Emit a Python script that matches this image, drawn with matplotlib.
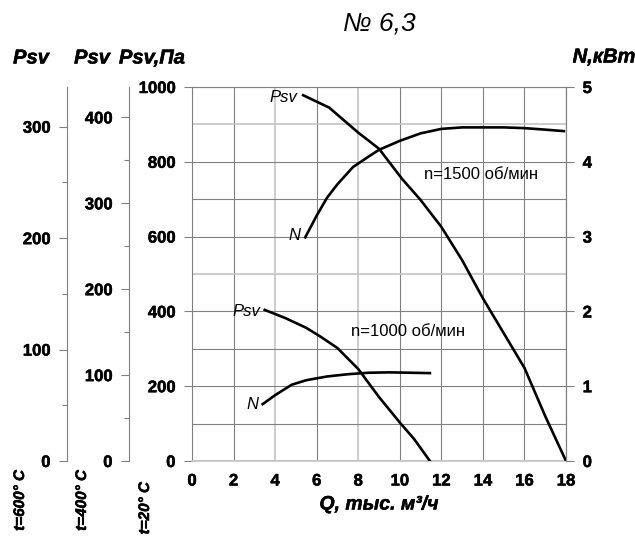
import matplotlib
matplotlib.use("Agg")
import matplotlib.pyplot as plt
import matplotlib.patheffects as pe
from matplotlib.ticker import MultipleLocator

plt.rcParams['font.family'] = ['Liberation Sans', 'DejaVu Sans']

# n=1500 rpm
q_p1500 = [5.35, 6.6, 8.0, 9.0, 10.1, 11.0, 12.0, 13.0, 14.0, 15.0, 16.0, 17.0, 18.0]
p_1500 = [978, 945, 878, 835, 755, 698, 626, 537, 435, 342, 249, 120, 0]
q_n1500 = [5.45, 6.0, 6.5, 7.0, 7.75, 8.5, 9.0, 10.0, 11.0, 12.0, 13.0, 14.0, 15.0, 16.0, 17.0, 17.9]
n_1500 = [2.99, 3.28, 3.52, 3.7, 3.93, 4.07, 4.16, 4.28, 4.38, 4.44, 4.46, 4.46, 4.46, 4.45, 4.43, 4.41]

# n=1000 rpm
q_p1000 = [3.5, 4.5, 5.5, 6.2, 7.0, 8.0, 9.0, 10.0, 10.7, 11.45]
p_1000 = [404, 382, 356, 332, 302, 246, 171, 103, 58, 0]
q_n1000 = [3.4, 4.0, 4.8, 5.5, 6.5, 7.5, 8.5, 9.5, 10.5, 11.45]
n_1000 = [0.76, 0.88, 1.02, 1.08, 1.13, 1.16, 1.18, 1.185, 1.18, 1.175]

x_ticks = list(range(0, 19, 2))
p_ticks = list(range(0, 1001, 200))
n_ticks = [0, 1, 2, 3, 4, 5]

# density ratios for hot gas scales
k400 = 293 / 673
k600 = 293 / 873

heavy = [pe.withStroke(linewidth=0.35, foreground='black')]

fig = plt.figure(figsize=(6.35, 5.47), dpi=100)
ax = fig.add_axes([192/635, 1-461/547, 374/635, 374/547])
ax.set_xlim(0, 18)
ax.set_ylim(0, 1000)

grey = '#808080'
light = '#c4c4c4'
for x in x_ticks:
    c = light if x in (0, 4, 8) else grey
    ax.axvline(x, color=c, lw=1.2 if c == light else 0.8, zorder=1)
for y in range(0, 1001, 100):
    c = light if y in (0, 500, 900) else grey
    ax.axhline(y, color=c, lw=1.2 if c == light else 0.8, zorder=1)

for s in ax.spines.values():
    s.set_color(grey)
    s.set_linewidth(0.8)
ax.spines['bottom'].set_color(light)
ax.spines['bottom'].set_linewidth(1.2)

ax.set_xticks(x_ticks)
ax.set_yticks(p_ticks)
ax.tick_params(axis='x', length=0, pad=9, labelsize=12)
ax.tick_params(axis='y', length=6, width=0.8, color=grey, pad=6, labelsize=12)
for lab in ax.get_xticklabels() + ax.get_yticklabels():
    lab.set_fontweight('bold')
    lab.set_path_effects(heavy)

ax.plot(q_p1500, p_1500, color='black', lw=1.9, zorder=3)
ax.plot(q_p1000, p_1000, color='black', lw=1.9, zorder=3)

ax2 = ax.twinx()
ax2.set_ylim(0, 5)
ax2.set_yticks(n_ticks)
for s in ['top', 'bottom', 'left']:
    ax2.spines[s].set_visible(False)
ax2.spines['right'].set_color(grey)
ax2.spines['right'].set_linewidth(0.8)
ax2.tick_params(axis='y', length=6, width=0.8, color=grey, pad=6, labelsize=12)
for lab in ax2.get_yticklabels():
    lab.set_fontweight('bold')
    lab.set_path_effects(heavy)
ax2.plot(q_n1500, n_1500, color='black', lw=1.9, zorder=3)
ax2.plot(q_n1000, n_1000, color='black', lw=1.9, zorder=3)

# secondary pressure scales for 400 and 600 C
sec4 = ax.secondary_yaxis((129-192)/374, functions=(lambda p: p*k400, lambda v: v/k400))
sec6 = ax.secondary_yaxis((67-192)/374, functions=(lambda p: p*k600, lambda v: v/k600))
for sa in (sec4, sec6):
    sa.yaxis.set_major_locator(MultipleLocator(100))
    sa.yaxis.set_minor_locator(MultipleLocator(50))
    sa.spines['left'].set_color(grey)
    sa.spines['left'].set_linewidth(0.8)
    sa.tick_params(which='major', length=6, width=0.8, color=grey, pad=6, labelsize=12)
    sa.tick_params(which='minor', length=3.5, width=0.8, color=grey)
    for lab in sa.get_yticklabels():
        lab.set_fontweight('bold')
        lab.set_path_effects(heavy)

# curve labels
lbl = dict(fontsize=12, style='italic', zorder=4)
ax.text(5.05, 973, 'Psv', ha='right', va='center', **lbl)
ax.text(5.2, 602, 'N', ha='right', va='center', **lbl)
ax.text(3.27, 401, 'Psv', ha='right', va='center', **lbl)
ax.text(3.18, 152, 'N', ha='right', va='center', **lbl)
ax.text(13.9, 767, 'n=1500 об/мин', ha='center', va='center', fontsize=12)
ax.text(10.4, 345, 'n=1000 об/мин', ha='center', va='center', fontsize=12)

ax.set_xlabel('Q, тыс. м³/ч', fontsize=14, fontweight='bold', style='italic', labelpad=5,
              path_effects=heavy)

hdr = dict(fontsize=14.5, fontweight='bold', style='italic', ha='center', va='center',
           path_effects=heavy)
fig.text(31/635, 1-58/547, 'Psv', **hdr)
fig.text(92/635, 1-58/547, 'Psv', **hdr)
fig.text(152/635, 1-58/547, 'Psv,Па', **hdr)
fig.text(604/635, 1-57/547, 'N,кВт', **hdr)

rot = dict(fontsize=11, fontweight='bold', style='italic', rotation=90, ha='center', va='top',
           path_effects=heavy)
fig.text(20/635, 1-470/547, 't=600° C', **rot)
fig.text(82/635, 1-470/547, 't=400° C', **rot)
fig.text(145/635, 1-482/547, 't=20° C', **rot)

fig.text(379/635, 1-24/547, '№ 6,3', fontsize=19, style='italic',
         ha='center', va='center')

fig.savefig('out.png', dpi=100)
